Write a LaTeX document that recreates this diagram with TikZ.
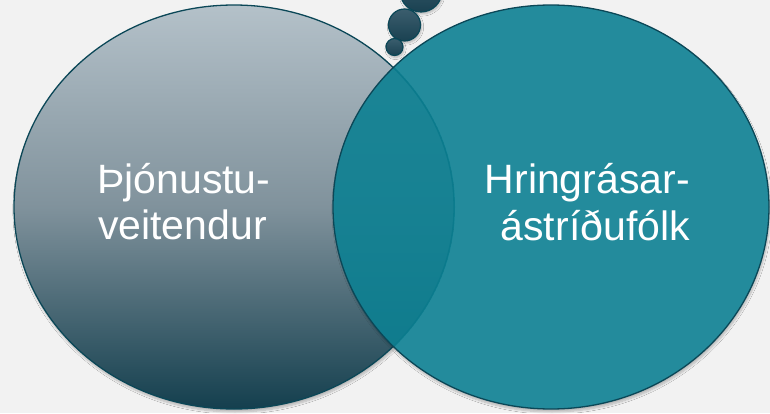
\documentclass[tikz,border=0pt]{standalone}
\usepackage{fontspec}
\setmainfont{Liberation Sans}
\usetikzlibrary{shadows.blur}
\definecolor{bg}{HTML}{F2F2F2}
\definecolor{edge}{HTML}{0B4757}
\definecolor{ltop}{HTML}{B4C1C9}
\definecolor{lmid}{HTML}{80929C}
\definecolor{lbot}{HTML}{143F4E}
\definecolor{rsolo}{HTML}{238B9C}
\definecolor{rfill}{HTML}{0C8092}
\definecolor{btop}{HTML}{3B5E6E}
\definecolor{bbot}{HTML}{1A4151}
\begin{document}
\begin{tikzpicture}[x=1pt,y=1pt,
  vshadow/.style={blur shadow={shadow xshift=1pt, shadow yshift=-3pt, shadow blur steps=8, shadow opacity=25}},
  vedge/.style={draw=edge, line width=1.3pt},
  lgrad/.style={top color=ltop, bottom color=lbot, middle color=lmid},
  bubble/.style={draw=edge, line width=1.2pt, top color=btop, bottom color=bbot, blur shadow={shadow xshift=1pt, shadow yshift=-2pt, shadow blur steps=6, shadow opacity=25}},
  lbl/.style={text=white, font=\fontsize{41}{47}\selectfont, inner sep=0pt}]
\fill[bg] (0,0) rectangle (770,413);
\useasboundingbox (0,0) rectangle (770,413);
% bubbles
\path[bubble] (421,422) circle (21);
\path[bubble] (404.5,388) circle (16);
\path[bubble] (394.5,366) circle (8.5);
% left ellipse
\path[vedge, vshadow, lgrad] (234,206) ellipse (220 and 202);
% right ellipse (solo colour)
\path[vshadow, fill=rsolo] (551,206) ellipse (218 and 202);
% overlap: left seen through the translucent right ellipse
\begin{scope}
  \clip (551,206) ellipse (218 and 202);
  \clip (234,206) ellipse (221 and 203);
  \path[vedge, lgrad] (234,206) ellipse (220 and 202);
  \fill[rfill, fill opacity=0.9] (551,206) ellipse (218 and 202);
\end{scope}
\draw[vedge] (551,206) ellipse (218 and 202);
% labels
\node[lbl, anchor=base west] (l1) at (97,220) {Þjónustu-};
\node[lbl, anchor=base west] (l2) at (98,174) {veitendur};
\node[lbl, anchor=base east] (r1) at (690,220) {Hringrásar-};
\node[lbl, anchor=base east] (r2) at (690,173) {ástríðufólk};
\end{tikzpicture}
\end{document}
